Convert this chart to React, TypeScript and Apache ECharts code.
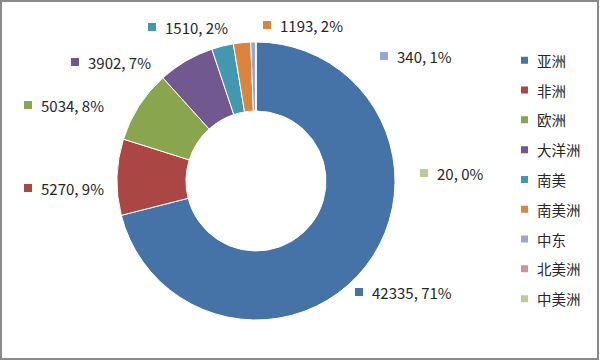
import React, { useEffect, useRef } from "react";
import * as echarts from "echarts";

const categories = ["亚洲", "非洲", "欧洲", "大洋洲", "南美", "南美洲", "中东", "北美洲", "中美洲"];
const values = [42335, 5270, 5034, 3902, 1510, 1193, 340, 0, 20];
const percentLabels = ["71%", "9%", "8%", "7%", "2%", "2%", "1%", "", "0%"];
const showLabel = [true, true, true, true, true, true, true, false, true];

const colors = ["#4572A7", "#AA4643", "#89A54E", "#71588F", "#4198AF", "#DB843D", "#93A9CF", "#D19392", "#B9CD96"];
// label anchor positions (left edge, vertical middle) matching the reference layout
const labelAnchors: [number, number][] = [
  [355, 292], [24, 188], [24, 105], [71, 62], [148, 27], [263, 25], [380, 56], [0, 0], [420, 173],
];

export default function App() {
  const ref = useRef<HTMLDivElement>(null);
  useEffect(() => {
    document.body.style.margin = "0";
    const chart = echarts.init(ref.current!, undefined, { renderer: "svg" });
    const font = '"Noto Sans CJK SC", "Noto Sans", sans-serif';
    const data = categories.map((name, i) => ({
      name,
      value: values[i],
      itemStyle: { color: colors[i] },
      label: {
        show: showLabel[i],
        overflow: "none",
        formatter: `{sq|}{t|${values[i]}, ${percentLabels[i]}}`,
        rich: {
          sq: { width: 8, height: 8, backgroundColor: colors[i] },
          t: { fontSize: 15, color: "#262626", fontFamily: font, padding: [0, 0, 0, 9] },
        },
      },
    }));
    chart.setOption({
      animation: false,
      backgroundColor: "#fff",
      color: colors,
      legend: {
        orient: "vertical",
        left: 514,
        top: 48,
        itemWidth: 9,
        itemHeight: 9,
        itemGap: 15.3,
        icon: "rect",
        textStyle: { fontSize: 14.5, color: "#262626", fontFamily: font, padding: [0, 0, 0, 3] },
        data: categories,
      },
      graphic: [
        {
          type: "rect",
          shape: { x: 1, y: 1, width: 597, height: 358 },
          style: { fill: "none", stroke: "#8a8a8a", lineWidth: 2 },
          silent: true,
        },
      ],
      series: [
        {
          type: "pie",
          center: [256, 181],
          radius: [70, 139],
          startAngle: 90,
          clockwise: true,
          itemStyle: { borderColor: "#fff", borderWidth: 1 },
          label: { position: "outside", overflow: "none" },
          labelLine: { show: false },
          labelLayout: (p: any) => {
            const a = labelAnchors[p.dataIndex];
            return { x: a[0], y: a[1], align: "left", verticalAlign: "middle" };
          },
          data,
        },
      ],
    });
    return () => chart.dispose();
  }, []);
  return <div ref={ref} style={{ width: 600, height: 361 }} />;
}
